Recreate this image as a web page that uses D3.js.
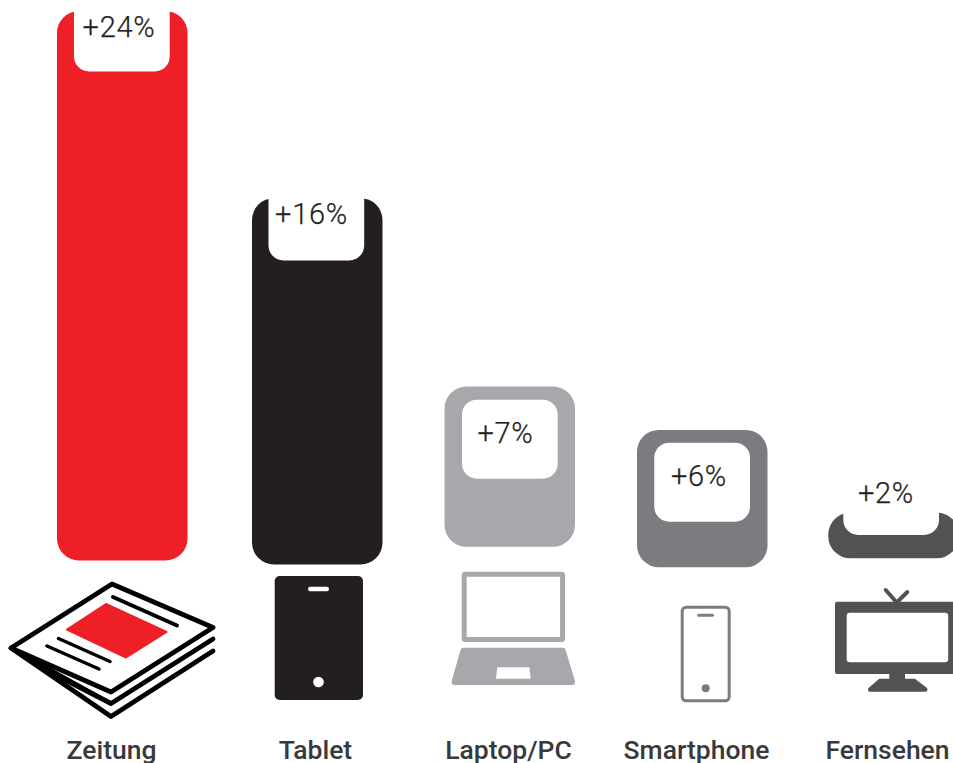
<!DOCTYPE html>
<html>
<head>
<meta charset="utf-8">
<script src="https://cdn.jsdelivr.net/npm/d3@7/dist/d3.min.js"></script>
<style>
  html, body { margin: 0; padding: 0; background: #fff; overflow: hidden; }
  svg { display: block; }
  .valor { font-family: Roboto, sans-serif; font-weight: 300; font-size: 29px; letter-spacing: 0.7px; fill: #231f20; stroke: #231f20; stroke-width: 0.25px; text-anchor: middle; }
  .nombre { font-family: Roboto, sans-serif; font-weight: 500; font-size: 26.5px; fill: #39393b; text-anchor: middle; }
</style>
</head>
<body>
<svg width="953" height="763"></svg>
<script>
// Datos
const categorias = ["Zeitung", "Tablet", "Laptop/PC", "Smartphone", "Fernsehen"];
const valores = [24, 16, 7, 6, 2];
const colores = ["#ee1f26", "#231f20", "#a7a8ab", "#7b7c80", "#515254"];

// Colocacion: cada barra va a su altura, no hay linea base comun
const izquierda = [57, 252, 444.5, 637, 828.3];
const base = [560.5, 564.5, 546.8, 567.3, 558.3];
const finHueco = [71.5, 260.5, 478.7, 521.7, 535];
const xHueco = [74, 268.5, 462, 654.3, 843.3];
const xValor = [119, 311.5, 505.5, 699, 886];
const yValor = [36.5, 223.5, 443, 486, 503];
const xNombre = [111.5, 315.5, 508.5, 696.5, 887.5];

const anchoBarra = 130.5;
const anchoHueco = 95.7;
const altoHueco = 79;

const svg = d3.select("svg");

const x = d3.scaleOrdinal(categorias, izquierda);
const alto = d3.scaleLinear().domain([0, 24]).range([0, 549.5]);

const filas = categorias.map((c, i) => ({ nombre: c, valor: valores[i], color: colores[i], i: i }));

// Barras
svg.selectAll(".barra").data(filas).enter().append("rect")
    .attr("class", "barra")
    .attr("x", d => x(d.nombre))
    .attr("y", d => base[d.i] - alto(d.valor))
    .attr("width", anchoBarra)
    .attr("height", d => alto(d.valor))
    .attr("rx", 22)
    .attr("fill", d => d.color);

// Hueco blanco de cada barra
svg.selectAll(".hueco").data(filas).enter().append("rect")
    .attr("class", "hueco")
    .attr("x", d => xHueco[d.i])
    .attr("y", d => finHueco[d.i] - altoHueco)
    .attr("width", anchoHueco)
    .attr("height", altoHueco)
    .attr("rx", 15)
    .attr("fill", "#fff");

svg.selectAll(".valor").data(filas).enter().append("text")
    .attr("class", "valor")
    .attr("x", d => xValor[d.i])
    .attr("y", d => yValor[d.i])
    .text(d => "+" + d.valor + "%");

svg.selectAll(".nombre").data(filas).enter().append("text")
    .attr("class", "nombre")
    .attr("x", d => xNombre[d.i])
    .attr("y", 759)
    .text(d => d.nombre);

dibujarPeriodico();
dibujarTablet();
dibujarLaptop();
dibujarTelefono();
dibujarTele();

function trazo(d, color, grosor) {
  return svg.append("path").attr("d", d)
      .attr("fill", "none")
      .attr("stroke", color)
      .attr("stroke-width", grosor)
      .attr("stroke-linecap", "round")
      .attr("stroke-linejoin", "round");
}

function relleno(d, color) {
  return svg.append("path").attr("d", d).attr("fill", color);
}

function caja(xx, yy, w, h, r, color) {
  return svg.append("rect").attr("x", xx).attr("y", yy)
      .attr("width", w).attr("height", h).attr("rx", r).attr("fill", color);
}

function dibujarPeriodico() {
  const negro = "#000";
  trazo("M11 648L112 584L213 627.5L111 692Z", negro, 4.8);
  trazo("M213 639L111 703.5L50 672", negro, 4.8);
  trazo("M213 651L111 716.5L11 648", negro, 4.8);
  trazo("M11 648L111 703.5", negro, 4);
  trazo("M113 597L177 625.5", negro, 4);
  trazo("M58.5 638.5L110 661.5", negro, 3.5);
  trazo("M47 646L99 669", negro, 3.5);
  const rojo = relleno("M106 604L166.5 632L126 657.5L67 629.5Z", colores[0]);
  rojo.attr("stroke", colores[0]).attr("stroke-width", 2).attr("stroke-linejoin", "round");
}

function dibujarTablet() {
  caja(274.7, 576, 88.3, 124, 5, colores[1]);
  caja(308, 586.7, 21, 4.5, 2.2, "#fff");
  svg.append("circle").attr("cx", 318.5).attr("cy", 682).attr("r", 5.3).attr("fill", "#fff");
}

function dibujarLaptop() {
  const gris = colores[2];
  svg.append("rect").attr("x", 464.2).attr("y", 574.2).attr("width", 98.4).attr("height", 65.3).attr("rx", 1)
      .attr("fill", "none").attr("stroke", gris).attr("stroke-width", 5);
  relleno("M464 647.7H563Q565 647.7 565.6 650L575 681Q575.6 685 572 685H454.5Q451 685 451.7 681L460.5 650Q461 647.7 464 647.7Z", gris);
  relleno("M497.3 667.3H529.3L530.7 678.7H496Z", "#fff");
}

function dibujarTelefono() {
  const gris = colores[3];
  svg.append("rect").attr("x", 682.2).attr("y", 607.2).attr("width", 47).attr("height", 93.6).attr("rx", 4)
      .attr("fill", "none").attr("stroke", gris).attr("stroke-width", 3);
  caja(697.3, 613.8, 16.7, 3, 1.5, gris);
  svg.append("circle").attr("cx", 705.7).attr("cy", 688.3).attr("r", 4).attr("fill", gris);
}

function dibujarTele() {
  const gris = colores[4];
  trazo("M885.7 590L896.7 602.5L907.3 592", gris, 4);
  caja(835, 601.7, 130, 72.3, 2, gris);
  caja(846.7, 612.7, 101.5, 49.6, 3, "#fff");
  relleno("M889.3 673H905V678.7H915L927 688Q928.5 691.7 925 691.7H870Q867 691.7 868.5 688L879.3 678.7H889.3Z", gris);
}
</script>
</body>
</html>
